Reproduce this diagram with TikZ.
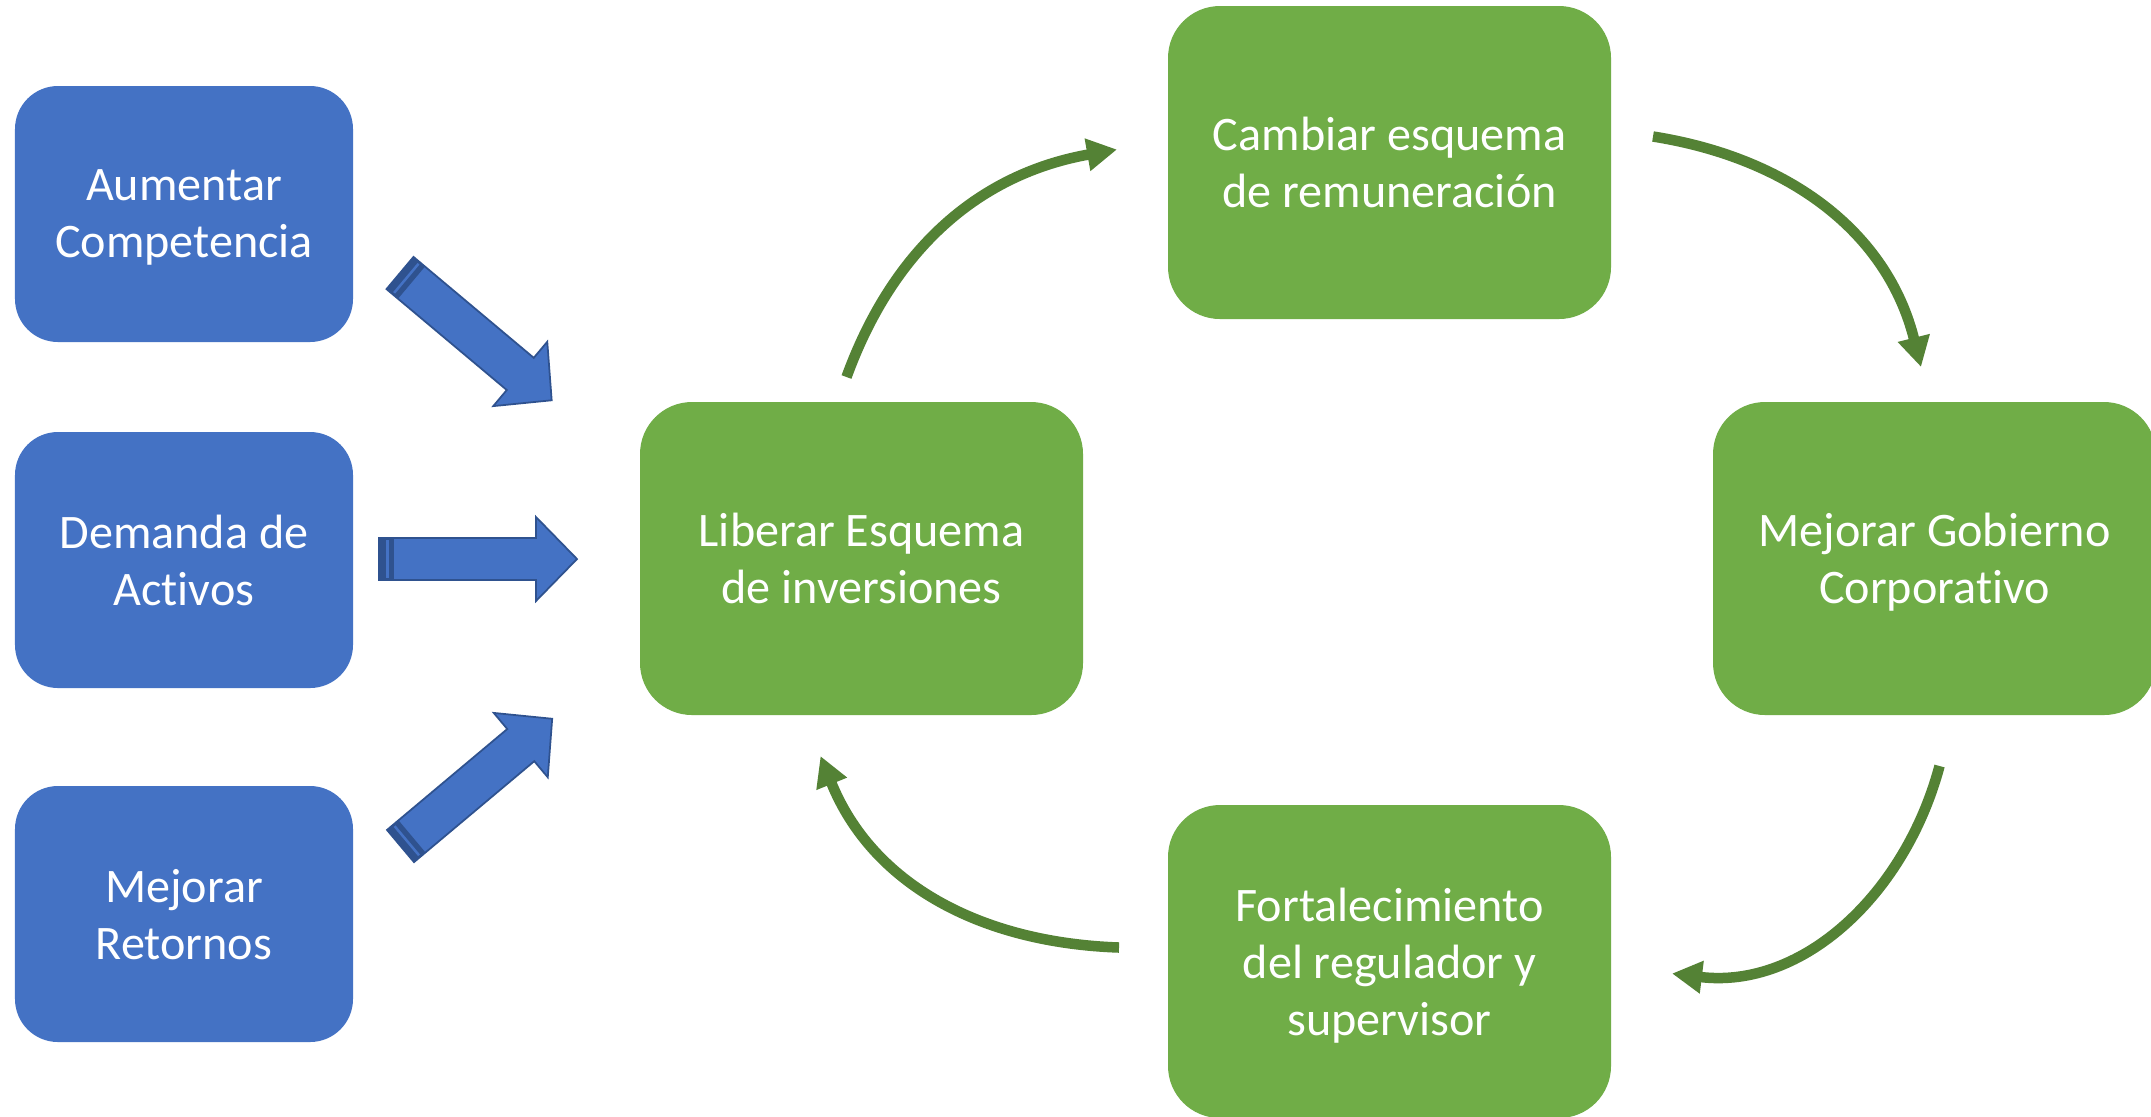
\documentclass[tikz,border=0pt]{standalone}
\usepackage{fontspec}
\setmainfont{Carlito}[Ligatures=NoCommon]
\usepackage{xcolor}
\usetikzlibrary{positioning, calc, arrows.meta}

\definecolor{boxblue}{HTML}{4472C4}
\definecolor{edgeblue}{HTML}{2F528F}
\definecolor{boxgreen}{HTML}{70AD47}
\definecolor{arrowgreen}{HTML}{548235}

\tikzset{
  bluebox/.style={rectangle, rounded corners=0.43cm, fill=boxblue, text=white,
    minimum width=3.38cm, minimum height=2.56cm, align=center, outer sep=0pt,
    text depth=0pt, font=\fontsize{13.7}{16.2}\selectfont},
  greenbox/.style={bluebox, fill=boxgreen, rounded corners=0.52cm,
    minimum width=4.43cm, minimum height=3.13cm},
  cycarrow/.style={draw=arrowgreen, line width=0.105cm,
    -{Triangle[length=0.3cm, width=0.31cm]}},
  fatarrow/.style={fill=boxblue, draw=edgeblue, line width=0.5pt, line join=miter},
}

% block arrow: tail point, angle
\newcommand{\inputarrow}[2]{%
  \begin{scope}[shift={#1}, rotate=#2]
    \draw[fatarrow] (0,0.21) -- (1.57,0.21) -- (1.57,0.42) -- (1.98,0)
      -- (1.57,-0.42) -- (1.57,-0.21) -- (0,-0.21) -- cycle;
    \fill[edgeblue] (0,-0.21) rectangle (0.15,0.21);
    \fill[boxblue] (0.07,-0.19) rectangle (0.095,0.19);
  \end{scope}}

\begin{document}
\begin{tikzpicture}
  % Frame
  \useasboundingbox (0,0) rectangle (21.51,-11.16);
  \fill[white] (0,0) rectangle (21.51,-11.16);

  % --- Drivers (left) ---
  \node[bluebox] (comp) at (1.84,-2.14) {Aumentar\\Competencia};
  \node[bluebox] (dem) at (1.84,-5.60) {Demanda de\\Activos};
  \node[bluebox] (ret) at (1.84,-9.14) {Mejorar\\Retornos};

  % Block arrows into the cycle
  \inputarrow{(4.00,-2.73)}{-40}
  \inputarrow{(3.79,-5.59)}{0}
  \inputarrow{(4.005,-8.46)}{40}

  % --- Cycle ---
  \node[greenbox] (lib) at (8.615,-5.585) {Liberar Esquema\\de inversiones};
  \node[greenbox] (cam) at (13.895,-1.625) {Cambiar esquema\\de remuneración};
  \node[greenbox] (gob) at (19.345,-5.585) {Mejorar Gobierno\\Corporativo};
  \node[greenbox] (fort) at (13.895,-9.615) {Fortalecimiento\\del regulador y\\supervisor};

  % Arrow ends
  \coordinate (c1a) at ($(lib.north)+(-0.15,0.25)$);
  \coordinate (c1b) at ($(cam.west)+(-0.51,0.13)$);
  \coordinate (c2a) at ($(cam.east)+(0.42,0.26)$);
  \coordinate (c2b) at ($(gob.north)+(-0.135,0.35)$);
  \coordinate (c3a) at ($(gob.south)+(0.05,-0.51)$);
  \coordinate (c3b) at ($(fort.east)+(0.61,-0.12)$);
  \coordinate (c4a) at ($(fort.west)+(-0.49,0.14)$);
  \coordinate (c4b) at ($(lib.south)+(-0.41,-0.41)$);

  % Curved arrows
  \draw[cycarrow] (c1a) to[out=70, in=190] (c1b);
  \draw[cycarrow] (c2a) to[out=-9, in=104] (c2b);
  \draw[cycarrow] (c3a) to[out=-105, in=-7] (c3b);
  \draw[cycarrow] (c4a) to[out=178, in=-68] (c4b);
\end{tikzpicture}
\end{document}
